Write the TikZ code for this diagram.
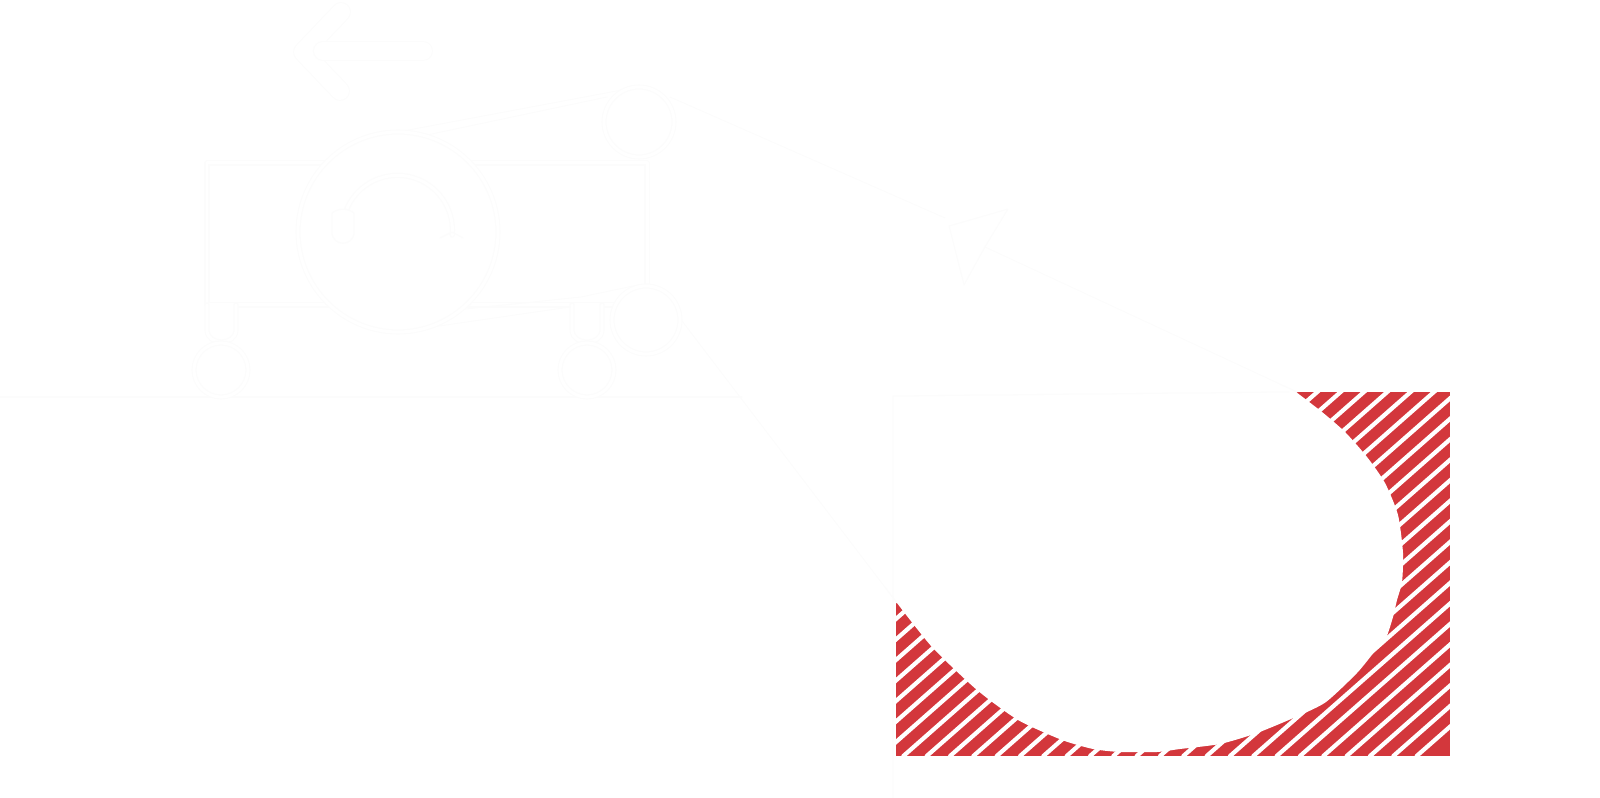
\documentclass[tikz,border=0pt]{standalone}
\definecolor{ghost}{RGB}{252,252,252}
\definecolor{hatchred}{RGB}{211,55,60}
\tikzset{
	ghostline/.style={draw=ghost, line width=0.3pt, double=white, double distance=0.85pt},
	ghostthin/.style={draw=ghost, line width=0.3pt},
	ghostwide/.style={draw=ghost, line width=0.3pt, double=white, double distance=5.1pt},
}
\begin{document}
\begin{tikzpicture}[x=0.01cm, y=-0.01cm, line join=round, line cap=round]
	\useasboundingbox (0,0) rectangle (1600,798);
	% hatched block
	\begin{scope}
		\clip (896,392) rectangle (1450,756);
		\fill[hatchred] (896,392) rectangle (1450,756);
		\foreach \k in {0,...,32}
			\draw[white, line width=1.2pt] ({1416.67-23.33*\k},756) -- ++(440,-387);
	\end{scope}
	\fill[white] plot[smooth, tension=0.4] coordinates {(1296,392) (1322,412) (1345,432) (1367,457) (1385,483) (1398,515) (1403,553) (1402,582) (1397,600) (1393,617) (1386,638) (1375,651) (1357,673) (1326,702) (1298,716) (1257,733) (1220,744) (1180,749) (1157,752) (1120,752) (1093,749) (1062,740) (1018,720) (977,690) (932,647) (897,603)} -- (885,590) -- (885,385) -- (1296,385) -- cycle;
	% faint frame round the block
	\draw[ghostthin] (893,798) -- (893,396) -- (1289,392);
	\draw[ghostthin] (0,397) -- (742,397);
	\draw[ghostthin] (679,317) -- (897,603);
	\draw[ghostthin] (670,97) -- (945,218);
	\draw[ghostthin] (985,247) -- (1297,392);
	\draw[ghostthin, fill=white] (949,226) -- (1008,209) -- (985,247) -- (964,285) -- cycle;
	% machine body and legs
	\draw[ghostline] (207,163) rectangle (647,305);
	\draw[ghostline, fill=white] (207,305) -- (207,330) .. controls (207,346) and (236,346) .. (236,330) -- (236,305);
	\draw[ghostline, fill=white] (572,305) -- (572,330) .. controls (572,346) and (602,346) .. (602,330) -- (602,305);
	\draw[ghostline, fill=white] (221,370) circle(27);
	\draw[ghostline, fill=white] (587,370) circle(27);
	% belts
	\draw[ghostthin] (398,132) -- (638,87) (427,135) -- (607,97);
	\draw[ghostthin] (456,310) -- (581,297) -- (638,285) (398,332) -- (570,307);
	% pulleys
	\draw[ghostline, fill=white] (398,232) circle(100);
	\draw[ghostline, fill=white] (639,122) circle(35);
	\draw[ghostline, fill=white] (646,320) circle(34);
	% spiral inside the big pulley
	\draw[ghostline] (343,238) arc[start angle=172, end angle=365, radius=55];
	\draw[ghostthin] (440,238) -- (452,232) -- (463,238);
	\draw[ghostthin, fill=white] (332,213) -- (332,232) .. controls (332,247) and (354,247) .. (354,232) -- (354,213) .. controls (348,208) and (338,208) .. (332,213);
	% arrow above the machine
	\draw[ghostwide] (341,12) -- (303,52) -- (340,91);
	\draw[ghostwide] (323,51) -- (423,51);
\end{tikzpicture}
\end{document}
